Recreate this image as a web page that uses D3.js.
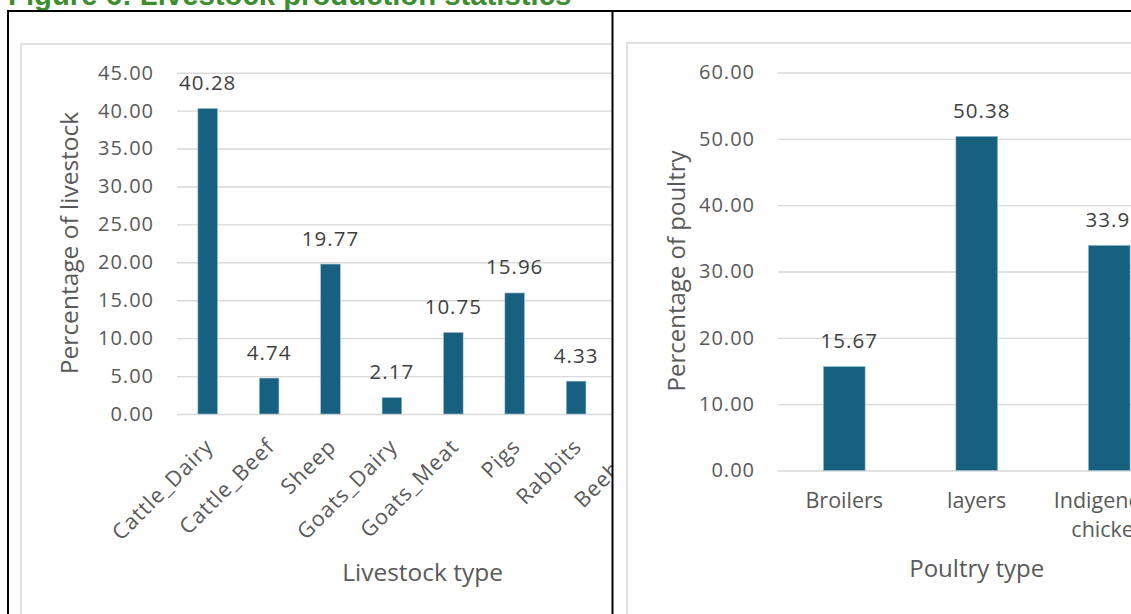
<!DOCTYPE html>
<html>
<head>
<meta charset="utf-8">
<script src="https://cdn.jsdelivr.net/npm/d3@7"></script>
<style>
  html, body { margin: 0; padding: 0; background: #ffffff; }
  svg { display: block; }
</style>
</head>
<body>
<svg id="fig" width="1131" height="614"></svg>
<script>
// Livestock chart data
const livestockTypes = ["Cattle_Dairy", "Cattle_Beef", "Sheep", "Goats_Dairy", "Goats_Meat", "Pigs", "Rabbits", "Beehive"];
const livestockShares = [40.28, 4.74, 19.77, 2.17, 10.75, 15.96, 4.33, 2.00];
const livestockTicks = [0, 5, 10, 15, 20, 25, 30, 35, 40, 45];

// Poultry chart data
const poultryTypes = ["Broilers", "layers", "Indigenous chicken"];
const poultryShares = [15.67, 50.38, 33.95];
const poultryTicks = [0, 10, 20, 30, 40, 50, 60];

const BAR = "#17607f";
const TEXT = "#595959";
const GRID = "#d9d9d9";
const FONT = "'Open Sans', 'Noto Sans', sans-serif";

const svg = d3.select("#fig");
const defs = svg.append("defs");
defs.append("clipPath").attr("id", "clipL")
  .append("rect").attr("x", 9).attr("y", 12).attr("width", 603).attr("height", 620);
defs.append("clipPath").attr("id", "clipR")
  .append("rect").attr("x", 613).attr("y", 12).attr("width", 530).attr("height", 620);

// Caption above the panels
svg.append("text")
  .attr("x", 8).attr("y", 5)
  .attr("font-family", "'Liberation Sans', Arial, sans-serif")
  .attr("font-weight", "bold")
  .attr("font-size", 29.3)
  .attr("fill", "#3e8e2f")
  .text("Figure 6: Livestock production statistics");

function barPanel(opts) {
  const g = svg.append("g").attr("clip-path", `url(#${opts.clip})`);

  // chart area frame
  g.append("rect")
    .attr("x", opts.frameX).attr("y", opts.frameY)
    .attr("width", 700).attr("height", 700)
    .attr("fill", "#ffffff").attr("stroke", GRID).attr("stroke-width", 1.5);

  const x = d3.scaleBand()
    .domain(opts.cats)
    .range([opts.x0, opts.x0 + opts.step * opts.cats.length])
    .paddingInner(opts.pad).paddingOuter(opts.pad / 2);
  const y = d3.scaleLinear().domain(opts.domain).range([opts.yBottom, opts.yTop]);

  // gridlines + tick labels through a left axis
  const axis = d3.axisLeft(y).tickValues(opts.ticks)
    .tickSize(-(x.range()[1] - x.range()[0]))
    .tickPadding(23)
    .tickFormat(d => d.toFixed(2));
  const ag = g.append("g").attr("transform", `translate(${opts.x0},0)`).call(axis);
  ag.select(".domain").remove();
  ag.selectAll(".tick line").attr("stroke", GRID).attr("stroke-width", 1.4);
  ag.selectAll(".tick text")
    .attr("fill", TEXT).attr("font-family", FONT).attr("font-size", 20)
    .attr("letter-spacing", 1.0);

  const data = opts.cats.map((c, i) => ({ c, v: opts.vals[i] })).filter(d => d.v != null);

  g.selectAll("rect.bar").data(data).join("rect")
    .attr("class", "bar")
    .attr("x", d => x(d.c)).attr("width", x.bandwidth())
    .attr("y", d => y(d.v)).attr("height", d => y(0) - y(d.v))
    .attr("fill", BAR).attr("stroke", "#9fc1d3").attr("stroke-width", 0.6);

  g.selectAll("text.val").data(data).join("text")
    .attr("class", "val")
    .attr("x", d => x(d.c) + x.bandwidth() / 2 + opts.valDx)
    .attr("y", d => y(d.v) - 18.5)
    .attr("text-anchor", "middle")
    .attr("fill", "#404040").attr("font-family", FONT).attr("font-size", 20.5)
    .attr("letter-spacing", 1.0)
    .text(d => d.v.toFixed(2));

  opts.labels(g, x);

  // axis titles
  g.append("text")
    .attr("x", (x.range()[0] + x.range()[1]) / 2).attr("y", opts.xTitleY)
    .attr("text-anchor", "middle")
    .attr("fill", TEXT).attr("font-family", FONT).attr("font-size", opts.xTitleSize)
    .text(opts.xTitle);
  g.append("text")
    .attr("transform", `translate(${opts.yTitleX},${opts.yTitleY}) rotate(-90)`)
    .attr("text-anchor", "middle")
    .attr("fill", TEXT).attr("font-family", FONT).attr("font-size", opts.yTitleSize)
    .text(opts.yTitle);
}

barPanel({
  clip: "clipL", frameX: 21, frameY: 44,
  cats: livestockTypes, vals: livestockShares, ticks: livestockTicks,
  x0: 177, step: 61.4, pad: 0.68, valDx: 0,
  domain: [0, 45], yBottom: 414, yTop: 72.7,
  xTitle: "Livestock type", xTitleY: 581, xTitleSize: 24.5,
  yTitle: "Percentage of livestock", yTitleX: 78, yTitleY: 243, yTitleSize: 24.5,
  labels: (g, x) => {
    g.selectAll("text.cat").data(livestockTypes).join("text")
      .attr("class", "cat")
      .attr("transform", d => `translate(${x(d) + x.bandwidth() / 2 - 4},${437}) rotate(-45)`)
      .attr("text-anchor", "end")
      .attr("dy", "0.72em")
      .attr("fill", TEXT).attr("font-family", FONT).attr("font-size", 21.5)
      .attr("letter-spacing", 1.0)
      .text(d => d);
  }
});

barPanel({
  clip: "clipR", frameX: 627, frameY: 43,
  cats: poultryTypes, vals: poultryShares, ticks: poultryTicks,
  x0: 778, step: 132.5, pad: 0.685, valDx: 5,
  domain: [0, 60], yBottom: 470.5, yTop: 72.5,
  xTitle: "Poultry type", xTitleY: 577, xTitleSize: 24,
  yTitle: "Percentage of poultry", yTitleX: 684.5, yTitleY: 271, yTitleSize: 24,
  labels: (g, x) => {
    const t = g.selectAll("text.cat").data(poultryTypes).join("text")
      .attr("class", "cat")
      .attr("text-anchor", "middle")
      .attr("fill", TEXT).attr("font-family", FONT).attr("font-size", 21.5);
    t.each(function (d) {
      const words = d.split(" ");
      const cx = x(d) + x.bandwidth() / 2;
      words.forEach((w, i) => {
        d3.select(this).append("tspan")
          .attr("x", cx).attr("y", 508 + i * 28.5)
          .text(w);
      });
    });
  }
});

// panel borders
const border = svg.append("g").attr("stroke", "#000000").attr("stroke-width", 2).attr("fill", "none");
border.append("line").attr("x1", 8).attr("x2", 1131).attr("y1", 11).attr("y2", 11);
border.append("line").attr("x1", 8).attr("x2", 8).attr("y1", 10).attr("y2", 614);
border.append("line").attr("x1", 612.5).attr("x2", 612.5).attr("y1", 10).attr("y2", 614);
</script>
</body>
</html>
